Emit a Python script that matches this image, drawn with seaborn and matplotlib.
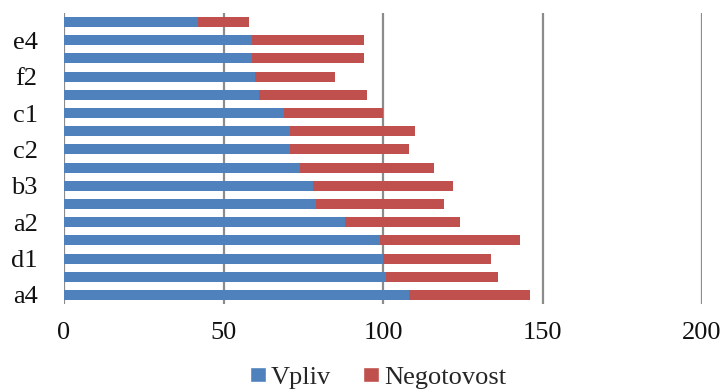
import matplotlib
matplotlib.use("Agg")
import matplotlib.pyplot as plt
from matplotlib.patches import Patch
import seaborn as sns
import pandas as pd

# Items from bottom to top; only every other label is printed on the axis
ids = [f"r{i:02d}" for i in range(16)]
tick_labels = ["a4", "", "d1", "", "a2", "", "b3", "", "c2", "", "c1", "", "f2", "", "e4", ""]
vpliv = [108, 101, 100, 99, 88, 79, 78, 74, 71, 71, 69, 61, 60, 59, 59, 42]
negotovost = [38, 35, 34, 44, 36, 40, 44, 42, 37, 39, 31, 34, 25, 35, 35, 16]

x_ticks = [0, 50, 100, 150, 200]

blue = "#4F81BD"
red = "#C0504D"

df = pd.DataFrame({"id": ids, "Vpliv": vpliv, "Negotovost": negotovost})
df["total"] = df["Vpliv"] + df["Negotovost"]

sns.set_theme(style="white")
plt.rcParams["font.family"] = ["Liberation Serif", "DejaVu Serif"]

fig = plt.figure(figsize=(7.26, 3.91), dpi=100)
ax = fig.add_axes([64 / 726, 1 - 304 / 391, (702 - 64) / 726, (304 - 13) / 391])

order = ids[::-1]  # top row first
sns.barplot(data=df, x="total", y="id", order=order, color=red, orient="h",
            width=0.55, saturation=1, linewidth=0, ax=ax)
sns.barplot(data=df, x="Vpliv", y="id", order=order, color=blue, orient="h",
            width=0.55, saturation=1, linewidth=0, ax=ax)

ax.set_xlim(0, 200)
ax.set_ylim(15.5, -0.5)
ax.set_xticks(x_ticks)
ax.set_xticklabels([str(t) for t in x_ticks], fontsize=19, color="#111111")
ax.set_yticks(range(16))
ax.set_yticklabels(tick_labels[::-1], fontsize=19, color="#111111")
ax.set_xlabel("")
ax.set_ylabel("")
ax.tick_params(axis="y", length=0, pad=19)
ax.tick_params(axis="x", length=0, pad=13)

for sp in ax.spines.values():
    sp.set_visible(False)

for t in x_ticks:
    ax.axvline(t, color="#8C8C8C", linewidth=1.6, zorder=0)

handles = [Patch(facecolor=blue, label="Vpliv"), Patch(facecolor=red, label="Negotovost")]
fig.legend(handles=handles, loc="center", bbox_to_anchor=(378 / 726, 1 - 378 / 391),
           ncol=2, frameon=False, fontsize=19, handlelength=0.6, handleheight=0.5,
           handletextpad=0.2, columnspacing=1.2)

fig.savefig("out.png", dpi=100)
